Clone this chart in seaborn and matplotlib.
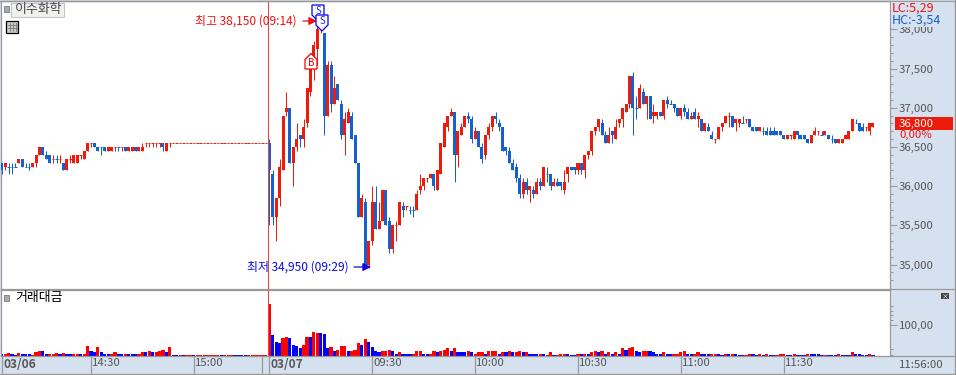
import matplotlib
matplotlib.use('Agg')
import matplotlib.pyplot as plt
import matplotlib.transforms as mtrans
from matplotlib.patches import Rectangle, Polygon
import pandas as pd
import seaborn as sns

# 1 minute candles, 03/06 afternoon
flat_prices = [36550, 36550, 36550, 36550, 36550, 36550, 36550, 36550, 36550, 36550,
               36550, 36550, 36550, 36550, 36550, 36550, 36550, 36550, 36550, 36550,
               36550, 36550, 36550, 36550, 36550, 36550, 36550, 36550]
open_0306 = [36300, 36250, 36250, 36250, 36250, 36300, 36350, 36250, 36250, 36250,
             36300, 36400, 36500, 36400, 36400, 36350, 36350, 36350, 36300, 36200,
             36350, 36300, 36300, 36400, 36350, 36450, 36550, 36550, 36500, 36500,
             36500, 36450, 36450, 36500, 36500, 36500, 36500, 36450, 36450, 36500,
             36450, 36450, 36550, 36550, 36550, 36550, 36550, 36550, 36450, 36550]
high_0306 = [36300, 36300, 36300, 36300, 36300, 36350, 36350, 36300, 36300, 36300,
             36400, 36500, 36500, 36450, 36400, 36400, 36400, 36400, 36300, 36350,
             36400, 36400, 36400, 36400, 36450, 36550, 36550, 36550, 36500, 36500,
             36500, 36500, 36500, 36500, 36500, 36500, 36500, 36500, 36500, 36500,
             36500, 36550, 36550, 36550, 36550, 36550, 36550, 36550, 36550, 36550]
low_0306 = [36150, 36200, 36150, 36150, 36250, 36300, 36250, 36250, 36200, 36250,
            36250, 36400, 36400, 36350, 36300, 36300, 36300, 36300, 36200, 36200,
            36300, 36300, 36300, 36350, 36350, 36450, 36500, 36500, 36450, 36400,
            36450, 36450, 36450, 36450, 36450, 36450, 36450, 36450, 36450, 36450,
            36450, 36450, 36500, 36500, 36500, 36500, 36500, 36450, 36450, 36500]
close_0306 = [36200, 36300, 36250, 36250, 36250, 36350, 36250, 36250, 36250, 36300,
              36400, 36500, 36400, 36350, 36300, 36350, 36350, 36350, 36200, 36350,
              36350, 36400, 36400, 36400, 36450, 36550, 36550, 36500, 36450, 36500,
              36450, 36500, 36500, 36500, 36500, 36500, 36450, 36500, 36500, 36450,
              36500, 36500, 36550, 36550, 36550, 36550, 36550, 36500, 36550, 36550]

# 03/07 morning
open_0307 = [36550, 36150, 35600, 35850, 36200, 36950, 37000, 36300, 36500, 36650,
             36600, 36800, 37200, 37500, 37750, 38000, 37950, 36900, 37550, 37050,
             37300, 37050, 36650, 36800, 36900, 36650, 36300, 35600, 35800, 35000,
             35300, 35800, 35450, 35550, 35950, 35550, 35200, 35500, 35500, 35750,
             35750, 35700, 35700, 35700, 35950, 36000, 36100, 36100, 36150, 35950,
             36150, 36500, 36750, 36900, 36950, 36400, 36650, 36750, 36900, 36850,
             36600, 36700, 36500, 36400, 36650, 36750, 36900, 36800, 36750, 36500,
             36450, 36300, 36250, 36100, 35900, 36050, 35950, 35950, 35900, 36050,
             36000, 36150, 36150, 36000, 36050, 36050, 35950, 36150, 36250, 36250,
             36200, 36300, 36200, 36400, 36450, 36700, 36750, 36800, 36650, 36550,
             36700, 36600, 36800, 36850, 36950, 37050, 37400, 37000, 37000, 37200,
             37050, 37150, 36900, 36900, 36950, 36900, 37100, 37050, 37050, 37000,
             36900, 37000, 36950, 36850, 36950, 36850, 36850, 36700, 36750, 36650,
             36600, 36600, 36750, 36800, 36900, 36900, 36800, 36800, 36800, 36850,
             36850, 36750, 36750, 36700, 36700, 36700, 36700, 36700, 36700, 36700,
             36650, 36600, 36650, 36600, 36700, 36650, 36650, 36600, 36550, 36650,
             36700, 36650, 36650, 36650, 36600, 36600, 36550, 36550, 36600, 36600,
             36700, 36800, 36800, 36750, 36750, 36700, 36750]
high_0307 = [36600, 36200, 35850, 36350, 36900, 37200, 37000, 36500, 36800, 36650,
             36850, 37250, 37500, 37850, 38150, 38100, 37950, 37600, 37600, 37400,
             37300, 37100, 36950, 37000, 36950, 36650, 36300, 35900, 35850, 35300,
             36000, 36000, 35800, 35950, 35950, 35600, 35500, 35550, 35800, 35800,
             35750, 35750, 35750, 35950, 36150, 36100, 36100, 36150, 36150, 36200,
             36550, 36800, 36900, 37000, 36950, 36700, 36800, 36900, 36950, 36900,
             36750, 36700, 36550, 36650, 36800, 36900, 36950, 36850, 36750, 36500,
             36500, 36350, 36300, 36150, 36100, 36100, 36000, 36000, 36100, 36100,
             36250, 36250, 36150, 36100, 36100, 36050, 36200, 36250, 36250, 36250,
             36300, 36300, 36400, 36450, 36700, 36750, 36850, 36850, 36700, 36750,
             36700, 36850, 36850, 37000, 37050, 37400, 37450, 37150, 37300, 37250,
             37150, 37150, 37050, 36950, 36950, 37100, 37150, 37100, 37050, 37000,
             37000, 37050, 37000, 36950, 37000, 36950, 36850, 36800, 36800, 36700,
             36600, 36750, 36800, 36900, 36950, 36900, 36850, 36850, 36900, 36850,
             36850, 36750, 36750, 36750, 36750, 36750, 36750, 36750, 36700, 36700,
             36650, 36650, 36650, 36700, 36700, 36650, 36650, 36600, 36650, 36750,
             36700, 36700, 36700, 36650, 36650, 36600, 36600, 36600, 36650, 36700,
             36850, 36850, 36800, 36800, 36750, 36800, 36800]
low_0307 = [35500, 35500, 35300, 35750, 36200, 36900, 36300, 36000, 36450, 36500,
            36500, 36750, 37150, 37350, 37550, 37950, 36650, 36900, 36950, 37050,
            37100, 36600, 36400, 36800, 36600, 36300, 35600, 35600, 35000, 34950,
            35250, 35450, 35450, 35550, 35500, 35150, 35150, 35300, 35500, 35600,
            35700, 35650, 35600, 35700, 35900, 35950, 36050, 36100, 35950, 35950,
            36150, 36500, 36700, 36900, 36050, 36250, 36650, 36750, 36800, 36550,
            36600, 36500, 36300, 36350, 36600, 36700, 36800, 36700, 36450, 36400,
            36300, 36200, 36050, 35850, 35850, 35900, 35800, 35850, 35900, 35950,
            36000, 36050, 35950, 36000, 36000, 35950, 35900, 36050, 36200, 36150,
            36150, 36150, 36100, 36350, 36400, 36650, 36700, 36650, 36550, 36550,
            36550, 36600, 36750, 36750, 36950, 37000, 36650, 36850, 37000, 37050,
            36850, 36850, 36800, 36850, 36900, 36850, 37000, 37050, 36950, 36900,
            36850, 36900, 36850, 36850, 36850, 36750, 36700, 36700, 36700, 36600,
            36550, 36600, 36700, 36800, 36750, 36750, 36700, 36750, 36800, 36800,
            36750, 36700, 36700, 36700, 36650, 36650, 36650, 36650, 36650, 36650,
            36600, 36600, 36600, 36600, 36600, 36600, 36600, 36550, 36550, 36650,
            36650, 36650, 36650, 36600, 36550, 36550, 36550, 36550, 36600, 36600,
            36700, 36800, 36700, 36700, 36700, 36650, 36750]
close_0307 = [36200, 35600, 35850, 36250, 36900, 37000, 36300, 36500, 36600, 36600,
              36750, 37250, 37500, 37800, 38000, 38050, 36900, 37550, 37050, 37250,
              37100, 36650, 36850, 36950, 36600, 36300, 35600, 35850, 35000, 35300,
              35800, 35450, 35550, 35950, 35500, 35200, 35500, 35500, 35800, 35700,
              35750, 35700, 35700, 35900, 36000, 36100, 36100, 36150, 36000, 36200,
              36550, 36800, 36900, 36950, 36400, 36700, 36750, 36900, 36850, 36600,
              36700, 36500, 36350, 36650, 36750, 36900, 36850, 36750, 36450, 36450,
              36300, 36200, 36100, 35900, 36050, 35950, 36000, 35900, 36050, 36000,
              36250, 36150, 36000, 36050, 36000, 36000, 36050, 36250, 36200, 36200,
              36300, 36200, 36400, 36450, 36700, 36750, 36850, 36650, 36550, 36650,
              36650, 36750, 36850, 37000, 37050, 37400, 37000, 37000, 37250, 37050,
              37150, 36850, 36950, 36950, 36900, 37100, 37050, 37050, 37000, 36900,
              37000, 36950, 36850, 36900, 36850, 36900, 36700, 36800, 36700, 36600,
              36600, 36750, 36800, 36900, 36900, 36750, 36850, 36850, 36800, 36850,
              36750, 36700, 36700, 36750, 36700, 36650, 36650, 36650, 36650, 36650,
              36600, 36650, 36650, 36700, 36650, 36600, 36600, 36550, 36650, 36700,
              36700, 36650, 36700, 36600, 36600, 36550, 36600, 36600, 36650, 36700,
              36850, 36800, 36700, 36700, 36750, 36800, 36800]

# trading value, units of the right hand scale
vol_0306 = [6, 6, 9, 5, 3, 9, 5, 5, 5, 3, 10, 13, 13, 6, 6, 6, 9, 5, 9, 6, 6, 6, 6, 6, 6,
            32, 13, 10, 26, 10, 6, 6, 6, 10, 6, 6, 6, 6, 6, 6, 6, 10, 10, 13, 10, 10, 13, 19, 10, 26,
            3, 3, 3, 3, 3, 3, 3, 3, 3, 3, 3, 3, 3, 3, 3, 3, 3, 3, 3, 3, 3, 3, 3, 3, 3, 3, 3, 3]
vol_dir_0306 = "brrbbrbbbrrrbbrrrbrbbrrbrrbbrbbbrrbbrbbbrrbrbrrrbr" "bbrbrrbrrrrrrrbrrrbbbbrrrrrr"
vol_0307 = [167, 65, 45, 41, 58, 61, 58, 35, 32, 23, 35, 61, 61, 77, 71, 71, 68, 23, 29, 16,
            19, 32, 32, 13, 16, 19, 39, 35, 52, 42, 26, 16, 10, 13, 16, 19, 13, 6, 10, 6,
            6, 6, 6, 13, 16, 6, 6, 6, 13, 10, 16, 19, 23, 16, 23, 10, 10, 10, 16, 10, 6,
            10, 10, 6, 13, 13, 13, 6, 10, 10, 13, 10, 10, 16, 10, 10, 6,
            6, 6, 6, 6, 3, 10, 3, 3, 6, 6, 6, 3, 3, 6, 6, 6, 6, 10, 13, 10,
            13, 6, 10, 6, 10, 6, 23, 19, 23, 26, 13, 10, 13, 16, 13, 10, 6, 6, 10, 6,
            6, 6, 6, 10, 13, 6, 6, 6, 10, 6, 6, 6, 6, 6, 6, 3, 6, 6, 6, 6,
            3, 3, 3, 6, 6, 3, 6, 3, 6, 3, 3, 3, 6, 6, 3, 3, 6, 3, 3, 3,
            6, 6, 6, 6, 3, 3, 3, 3, 3, 6, 3, 3, 3, 10, 6, 6, 3, 3, 6, 3]
vol_dir_0307 = ("rbbbrrbbbb" "rrbrrbbbrb" "rrrbrrrbrb" "bbbrrrbbrb" "bbrrrbbrrb" "rrrbrbbbrb" "r"
                "rrbrrrbrbrbrrbrb"
                "bbrbrrbrrr" "bbbrbrbrrb" "rbrbrbrbrr" "bbrrbbbbrb" "brrrrbbrrb"
                "bbrrbbrbrb" "bbrrbbrbrb" "brrrbbrbbb" "rbbbbrbbbr" "bbbrbbbbrb")

# positions of doji drawn in blue, the rest go red
blue_doji = [2, 3, 4, 7, 8, 16, 29, 34, 78 + 41, 78 + 42, 78 + 81, 78 + 107, 78 + 117, 78 + 138,
             78 + 144, 78 + 161, 78 + 164, 78 + 171]

tick_pos = [0, 26, 56, 76, 78, 108, 138, 168, 198, 228]
tick_text = ['03/06', '14:30', '15:00', '', '03/07', '09:30', '10:00', '10:30', '11:00', '11:30']
price_ticks = [35000, 35500, 36000, 36500, 37000, 37500, 38000]
vol_ticks = [100]

RED = '#EC1B0C'
BLUE = '#1460CE'
GREY = '#999999'
PANEL = '#D6E1EF'
TXT = '#555555'


def px_x(px):
    return (px - 269.3) / 3.43 + 78


def px_price(py):
    return 38000 - (py - 29.3) * 12.755


sns.set_theme(style='white')
plt.rcParams['font.family'] = ['Noto Sans CJK KR', 'DejaVu Sans']

opens = open_0306 + flat_prices + open_0307
highs = high_0306 + flat_prices + high_0307
lows = low_0306 + flat_prices + low_0307
closes = close_0306 + flat_prices + close_0307
idx = list(range(len(opens)))
candle_up = [c >= o for o, c in zip(opens, closes)]
for i in blue_doji:
    candle_up[i] = False

candles = pd.DataFrame({'idx': idx, 'open': opens, 'high': highs, 'low': lows,
                        'close': closes, 'up': candle_up})
candles['color'] = candles['up'].map({True: RED, False: BLUE})
candles['bottom'] = candles[['open', 'close']].min(axis=1)
candles['height'] = (candles['open'] - candles['close']).abs()

fig = plt.figure(figsize=(9.56, 3.75), dpi=100, facecolor=PANEL)
ax = fig.add_axes([1 / 956, 86 / 375, 889 / 956, 288 / 375], facecolor='white')
ax_vol = fig.add_axes([1 / 956, 19.5 / 375, 889 / 956, 66 / 375], facecolor='white')

# volume pane, seaborn does the bars
volume = pd.DataFrame({'idx': idx, 'vol': vol_0306 + vol_0307,
                       'dir': list(vol_dir_0306 + vol_dir_0307)})
sns.barplot(data=volume, x='idx', y='vol', hue='dir', palette={'r': '#FF0000', 'b': '#0000FF'},
            native_scale=True, dodge=False, width=0.92, linewidth=0, saturation=1,
            legend=False, ax=ax_vol)

# candles
wide = candles[candles['height'] > 0]
flat = candles[candles['height'] == 0]
ax.vlines(candles['idx'], candles['low'], candles['high'], colors=candles['color'],
          lw=0.72, capstyle='butt', snap=True, zorder=2)
ax.bar(wide['idx'], wide['height'], bottom=wide['bottom'], width=0.88,
       color=wide['color'], linewidth=0, zorder=3)
ax.hlines(flat['close'], flat['idx'] - 0.36, flat['idx'] + 0.36, colors=flat['color'],
          lw=0.72, capstyle='butt', snap=True, zorder=3)

x_min, x_max = px_x(1), px_x(890)
ax.set_xlim(x_min, x_max)
ax.set_ylim(px_price(289), px_price(1))
ax_vol.set_xlim(x_min, x_max)
ax_vol.set_ylim(0, 66 * 3.226)

# session break
ax.axvline(77.6, color='#E84545', lw=0.75, zorder=4)
ax_vol.axvline(77.6, color='#E84545', lw=0.75, zorder=4)

for a in (ax, ax_vol):
    for s in a.spines.values():
        s.set_color(GREY)
        s.set_linewidth(0.9)
    a.set_xlabel('')
    a.set_ylabel('')
    a.yaxis.tick_right()

ax.set_xticks([])
ax.set_yticks(price_ticks)
ax.set_yticklabels([f'{p:,}' for p in price_ticks])
ax.set_yticks([p for p in range(34800, 38400, 100) if p % 500 != 0], minor=True)
ax.tick_params(axis='y', which='major', right=True, length=5, width=0.75, color=GREY,
               labelsize=8.2, labelcolor=TXT, pad=1.5)
ax.tick_params(axis='y', which='minor', right=True, length=2.3, width=0.75, color=GREY)

ax_vol.set_yticks(vol_ticks)
ax_vol.set_yticklabels(['100,00'])
ax_vol.set_yticks([2, 21, 116, 131, 145, 159], minor=True)
ax_vol.tick_params(axis='y', which='major', right=True, length=5, width=0.75, color=GREY,
                   labelsize=8.2, labelcolor=TXT, pad=1.5)
ax_vol.tick_params(axis='y', which='minor', right=True, length=2.3, width=0.75, color=GREY)

ax_vol.set_xticks(tick_pos)
ax_vol.set_xticklabels(tick_text)
ax_vol.tick_params(axis='x', bottom=True, length=12.5, width=0.9, color=GREY,
                   labelsize=8.2, labelcolor=TXT, pad=-10.5)
shift = mtrans.ScaledTranslation(1.3 / 100, 0, fig.dpi_scale_trans)
for lab in ax_vol.get_xticklabels():
    lab.set_ha('left')
    lab.set_va('top')
    lab.set_transform(lab.get_transform() + shift)
    if '/' in lab.get_text():
        lab.set_fontweight('bold')
        lab.set_fontsize(8.6)

# overlay in pixels for the terminal chrome
over = fig.add_axes([0, 0, 1, 1])
over.set_xlim(0, 956)
over.set_ylim(375, 0)
over.axis('off')
over.patch.set_alpha(0)

over.plot([0, 956], [374, 374], color=GREY, lw=1)
over.plot([955, 955], [0, 375], color=GREY, lw=1)
over.plot([0, 956], [0.5, 0.5], color=GREY, lw=1)
over.plot([890, 956], [289, 289], color=GREY, lw=0.9)
over.plot([890, 956], [356, 356], color=GREY, lw=0.9)

over.add_patch(Rectangle((4, 6), 5, 5.5, fc='#AAAAAA', ec='#888888', lw=0.7))
over.add_patch(Rectangle((11.5, 2.5), 53, 14, fc='#F0F0F0', ec='#C4C4C4', lw=0.8))
over.text(15, 9.5, '이수화학', fontsize=9.3, color='#444444', va='center')
over.add_patch(Rectangle((6.5, 20.5), 12, 12, fc='#CCCCCC', ec='black', lw=0.9))
for gx in (10, 13, 16):
    over.plot([gx, gx], [23, 31], color='#777777', lw=0.6)
for gy in (25, 28):
    over.plot([8, 17], [gy, gy], color='#777777', lw=0.6)

over.add_patch(Rectangle((4, 295), 5, 5.5, fc='#AAAAAA', ec='#888888', lw=0.7))
over.text(15, 298, '거래대금', fontsize=9.3, color='black', va='center')
over.add_patch(Rectangle((941, 293), 8, 6, fc='#444444', ec='none'))
over.text(945, 296, '×', fontsize=5, color='white', ha='center', va='center')

# high / low notes
over.text(297, 21, '최고 38,150 (09:14)', fontsize=8.6, color='#EE1111', ha='right', va='center')
over.annotate('', xy=(317, 21), xytext=(303, 21),
              arrowprops=dict(arrowstyle='-|>', color='#EE1111', lw=0.9, shrinkA=0, shrinkB=0))
over.text(349, 267, '최저 34,950 (09:29)', fontsize=8.6, color='#0A0AE0', ha='right', va='center')
over.annotate('', xy=(371, 267), xytext=(354, 267),
              arrowprops=dict(arrowstyle='-|>', color='#0A0AE0', lw=0.9, shrinkA=0, shrinkB=0))

# trade signals
for cx, cy in [(318, 12), (322, 22)]:
    over.add_patch(Polygon([(cx - 6, cy - 7), (cx + 6, cy - 7), (cx + 6, cy + 3), (cx, cy + 9),
                            (cx - 6, cy + 3)], fc='white', ec='#0000EE', lw=0.9, zorder=5))
    over.text(cx, cy - 1, 'S', fontsize=7, color='#2222EE', ha='center', va='center', zorder=6)
over.add_patch(Polygon([(311, 53.5), (317, 59.5), (317, 69), (305, 69), (305, 59.5)],
                       fc='white', ec='#EE0000', lw=0.9, zorder=5))
over.text(311, 63, 'B', fontsize=7, color='#EE0000', ha='center', va='center', zorder=6)

# right hand read outs, they cover part of two axis labels
over.add_patch(Rectangle((891.5, 2), 62, 25, fc=PANEL, ec='none', zorder=5))
over.add_patch(Rectangle((896, 130), 56, 12, fc=PANEL, ec='none', zorder=5))
over.text(892, 8, 'LC:5,29', fontsize=9, color='#EE1111', va='center', zorder=6)
over.text(892, 20, 'HC:-3,54', fontsize=9, color=BLUE, va='center', zorder=6)
over.add_patch(Rectangle((895, 117), 58, 13, fc=RED, ec='none', zorder=5))
over.text(899, 123.5, '36,800', fontsize=8.2, color='white', va='center', zorder=6)
over.text(899, 135, '0,00%', fontsize=8.2, color='#EE1111', va='center', zorder=6)
over.text(899, 365, '11:56:00', fontsize=8.2, color=TXT, va='center')

fig.savefig('out.png', dpi=100, facecolor=PANEL)
